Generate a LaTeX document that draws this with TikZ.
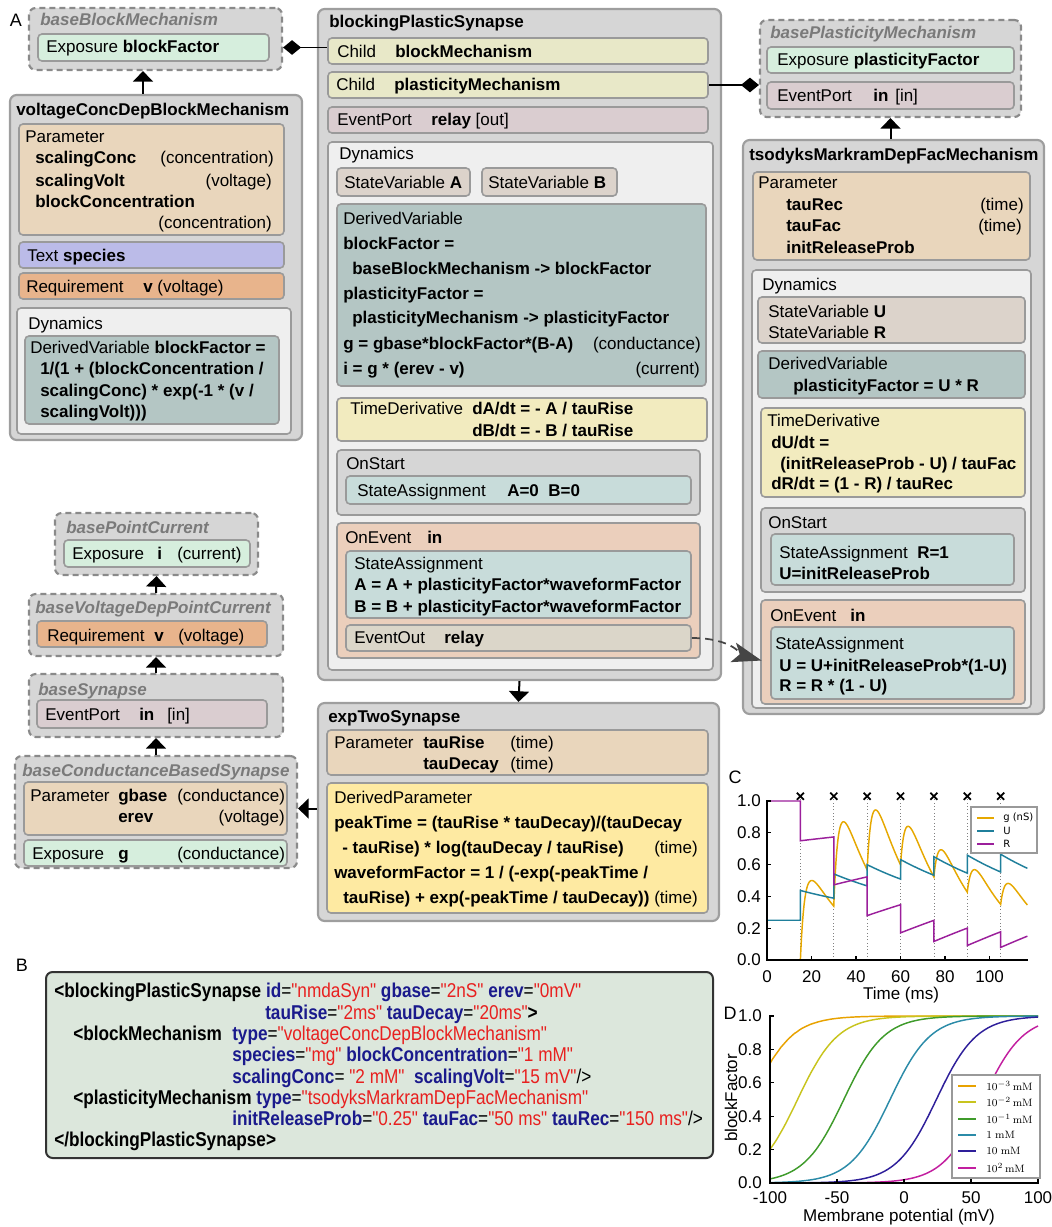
\documentclass[tikz,border=0pt]{standalone}
\usepackage[no-math]{fontspec}
\setmainfont{Liberation Sans}
\newfontfamily\xmlfont{Liberation Sans}[FakeStretch=0.86,Ligatures=TeXOff]
\newfontfamily\legfont{DejaVu Sans}
\usetikzlibrary{fit,arrows.meta,shapes.misc}

\definecolor{clsfill}{HTML}{D6D6D6}
\definecolor{clsline}{HTML}{9E9E9E}
\definecolor{basedraw}{HTML}{8A8A8A}
\definecolor{partline}{HTML}{9A9A9A}
\definecolor{titlegray}{HTML}{7A7A7A}
\definecolor{expo}{HTML}{D6EEDD}
\definecolor{param}{HTML}{E9D6BC}
\definecolor{textc}{HTML}{BBBBE8}
\definecolor{req}{HTML}{E8B48C}
\definecolor{dyn}{HTML}{EFEFEF}
\definecolor{derv}{HTML}{B4C6C4}
\definecolor{child}{HTML}{E8E8C8}
\definecolor{evport}{HTML}{DACDD0}
\definecolor{statev}{HTML}{DCD3CB}
\definecolor{tderiv}{HTML}{F2EBBF}
\definecolor{onstart}{HTML}{D6D6D6}
\definecolor{sassign}{HTML}{C8DCDA}
\definecolor{onevent}{HTML}{EBCFBC}
\definecolor{evout}{HTML}{DBD6C9}
\definecolor{dparam}{HTML}{FEEAA2}
\definecolor{xmlbg}{HTML}{DCE7DC}
\definecolor{xnavy}{HTML}{1A1A8C}
\definecolor{xred}{HTML}{E8201F}
\definecolor{evgray}{HTML}{454545}
\definecolor{gcol}{HTML}{E6A800}
\definecolor{ucol}{HTML}{1F7F9B}
\definecolor{rcol}{HTML}{9B1F9B}
\definecolor{dA}{HTML}{E8A200}
\definecolor{dB}{HTML}{C8C41E}
\definecolor{dC}{HTML}{3F9B2B}
\definecolor{dD}{HTML}{2B8BA8}
\definecolor{dE}{HTML}{2E1F9A}
\definecolor{dF}{HTML}{C21E9F}

\newcommand{\xattr}[1]{{\color{xnavy}\bfseries #1}}
\newcommand{\xval}[1]{{\color{xred}"#1"}}

\tikzset{
  cls/.style={draw=clsline, fill=clsfill, line width=1.6pt, rounded corners=5pt, inner sep=0pt},
  base/.style={cls, draw=basedraw, dash pattern=on 4.5pt off 3pt},
  part/.style={draw=partline, line width=1.2pt, rounded corners=3pt, inner sep=0pt},
  tx/.style={anchor=base west, inner sep=0pt},
  tr/.style={anchor=base east, inner sep=0pt},
  title/.style={tx, font=\bfseries\itshape, text=titlegray},
  head/.style={tx, font=\bfseries},
  inh/.style={line width=1.5pt, -{Triangle[length=8pt,width=15pt]}},
  comp/.style={line width=1.2pt, {Diamond[length=13.5pt,width=11pt]}-},
  evt/.style={draw=evgray, line width=1.3pt, dash pattern=on 6pt off 4pt,
    -{Stealth[length=22pt,width=15pt,inset=5pt]}, shorten >=6.75pt},
  lab/.style={inner sep=0pt, font=\fontsize{13.5}{16}\selectfont},
  xmlbox/.style={draw=black!80, fill=xmlbg, line width=1.5pt, rounded corners=5pt, inner sep=0pt},
  xl/.style={tx, font=\xmlfont\fontsize{15}{18}\selectfont},
  axis/.style={line width=1.5pt, line cap=rect},
  curve/.style={line width=1.1pt},
  spk/.style={gray, line width=0.5pt, dotted},
  spkm/.style={cross out, draw=black, line width=1.3pt, minimum size=4pt, inner sep=0pt},
  leg/.style={draw=gray!80, fill=white, line width=0.8pt, inner sep=0pt},
  tickl/.style={inner sep=0pt}
}

\begin{document}
\fontsize{12.75}{15}\selectfont
\begin{tikzpicture}[x=0.75pt,y=-0.75pt,
  declare function={ew(\s)=exp(-max(\s,0)/20)-exp(-min(max(\s,0),18)/2);
    gc(\t)=2*(0.3588*ew(\t-15)+0.4318*ew(\t-30)+0.3499*ew(\t-45)+0.2541*ew(\t-60)
      +0.1909*ew(\t-75)+0.1573*ew(\t-90)+0.1411*ew(\t-105));}]
\useasboundingbox (0,0) rectangle (1051,1227);

% ---------------- panel A, left column
\node[lab] (labA) at (16,20) {A};
\node[base, fit={(29,8) (282,70)}] (bbm) {};
\node[title] (bbm-t) at (40,26) {baseBlockMechanism};
\node[part, fill=expo, fit={(38,34) (269,61)}] (bbmx) {};
\node[tx] (bbmx-t) at (46,53) {Exposure \textbf{blockFactor}};

\node[cls, fit={(10,95) (302,440)}] (vcd) {};
\node[head] (vcd-t) at (16,116) {voltageConcDepBlockMechanism};
\node[part, fill=param, fit={(19,124) (284,235)}] (vcdp) {};
\node[tx] (vcdp-t) at (25,143) {Parameter};
\node[head] (vcdp-1) at (35,164) {scalingConc};
\node[tr] (vcdp-1u) at (274,164) {(concentration)};
\node[head] (vcdp-2) at (35,186) {scalingVolt};
\node[tr] (vcdp-2u) at (272,186) {(voltage)};
\node[head] (vcdp-3) at (35,207) {blockConcentration};
\node[tr] (vcdp-3u) at (272,228) {(concentration)};
\node[part, fill=textc, fit={(19,242) (284,268)}] (vcds) {};
\node[tx] (vcds-t) at (27,261) {Text \textbf{species}};
\node[part, fill=req, fit={(19,273) (284,299)}] (vcdr) {};
\node[tx] (vcdr-t) at (26,292) {Requirement};
\node[tx] (vcdr-v) at (143,292) {\textbf{v} (voltage)};
\node[part, fill=dyn, fit={(17,308) (291,434)}] (vcdd) {};
\node[tx] (vcdd-t) at (28,329) {Dynamics};
\node[part, fill=derv, fit={(25,336) (279,424)}] (vcdv) {};
\node[tx] (vcdv-1) at (30,353) {DerivedVariable \textbf{blockFactor =}};
\node[head] (vcdv-2) at (40,374) {1/(1 + (blockConcentration /};
\node[head] (vcdv-3) at (40,396) {scalingConc) * exp(-1 * (v /};
\node[head] (vcdv-4) at (40,417) {scalingVolt)))};

\draw[inh] ([xshift=-9.75pt]vcd.north) -- ([xshift=-9.75pt]vcd.north |- bbm.south);

% lower left stack
\node[base, fit={(55,513) (258,575)}] (bpc) {};
\node[title] (bpc-t) at (66,533) {basePointCurrent};
\node[part, fill=expo, fit={(64,540) (250,567)}] (bpcx) {};
\node[tx] (bpcx-t) at (72,559) {Exposure};
\node[head] (bpcx-i) at (157,559) {i};
\node[tx] (bpcx-u) at (177,559) {(current)};

\node[base, fit={(29,594) (283,656)}] (bvd) {};
\node[title] (bvd-t) at (35,613) {baseVoltageDepPointCurrent};
\node[part, fill=req, fit={(37,621) (267,647)}] (bvdr) {};
\node[tx] (bvdr-t) at (47,641) {Requirement};
\node[head] (bvdr-v) at (154,641) {v};
\node[tx] (bvdr-u) at (178,641) {(voltage)};

\node[base, fit={(29,674) (283,737)}] (bsyn) {};
\node[title] (bsyn-t) at (38,695) {baseSynapse};
\node[part, fill=evport, fit={(37,700) (267,728)}] (bsyne) {};
\node[tx] (bsyne-t) at (45,720) {EventPort};
\node[head] (bsyne-i) at (139,720) {in};
\node[tx] (bsyne-u) at (167,720) {[in]};

\node[base, fit={(15,756) (297,868)}] (bcs) {};
\node[title] (bcs-t) at (22,776) {baseConductanceBasedSynapse};
\node[part, fill=param, fit={(24,782) (287,835)}] (bcsp) {};
\node[tx] (bcsp-t) at (30,801) {Parameter};
\node[head] (bcsp-1) at (118,801) {gbase};
\node[tx] (bcsp-1u) at (177,801) {(conductance)};
\node[head] (bcsp-2) at (118,822) {erev};
\node[tr] (bcsp-2u) at (285,822) {(voltage)};
\node[part, fill=expo, fit={(24,840) (287,866)}] (bcsx) {};
\node[tx] (bcsx-t) at (32,859) {Exposure};
\node[head] (bcsx-g) at (118,859) {g};
\node[tx] (bcsx-u) at (177,859) {(conductance)};

\draw[inh] (bvd.north) -- (bpc.south);
\draw[inh] (bsyn.north) -- (bvd.south);
\draw[inh] (bcs.north) -- (bsyn.south);

% ---------------- middle column
\node[cls, fit={(318,9) (721,680)}] (bps) {};
\node[head] (bps-t) at (329,28) {blockingPlasticSynapse};
\node[part, fill=child, fit={(328,38) (708,64)}] (child1) {};
\node[tx] (child1-t) at (337,58) {Child};
\node[head] (child1-n) at (395,58) {blockMechanism};
\node[part, fill=child, fit={(328,72) (708,98)}] (child2) {};
\node[tx] (child2-t) at (336,91) {Child};
\node[head] (child2-n) at (394,91) {plasticityMechanism};
\node[part, fill=evport, fit={(328,107) (708,133)}] (bpse) {};
\node[tx] (bpse-t) at (337,126) {EventPort};
\node[tx] (bpse-n) at (431,126) {\textbf{relay} [out]};
\node[part, fill=dyn, fit={(328,142) (713,670)}] (bpsd) {};
\node[tx] (bpsd-t) at (339,160) {Dynamics};
\node[part, fill=statev, fit={(337,168) (470,196)}] (sva) {};
\node[tx] (sva-t) at (344,188) {StateVariable \textbf{A}};
\node[part, fill=statev, fit={(482,168) (617,196)}] (svb) {};
\node[tx] (svb-t) at (488,188) {StateVariable \textbf{B}};
\node[part, fill=derv, fit={(337,204) (706,386)}] (bpsv) {};
\node[tx] (bpsv-t) at (343,224) {DerivedVariable};
\node[head] (bpsv-1) at (343,249) {blockFactor =};
\node[head] (bpsv-2) at (352,274) {baseBlockMechanism -> blockFactor};
\node[head] (bpsv-3) at (343,299) {plasticityFactor =};
\node[head] (bpsv-4) at (352,323) {plasticityMechanism -> plasticityFactor};
\node[head] (bpsv-5) at (343,349) {g = gbase*blockFactor*(B-A)};
\node[tr] (bpsv-5u) at (701,349) {(conductance)};
\node[head] (bpsv-6) at (343,374) {i = g * (erev - v)};
\node[tr] (bpsv-6u) at (700,374) {(current)};
\node[part, fill=tderiv, fit={(337,398) (707,441)}] (bpstd) {};
\node[tx] (bpstd-t) at (350,414) {TimeDerivative};
\node[head] (bpstd-1) at (472,414) {dA/dt = - A / tauRise};
\node[head] (bpstd-2) at (472,436) {dB/dt = - B / tauRise};
\node[part, fill=onstart, fit={(337,450) (700,515)}] (bpsos) {};
\node[tx] (bpsos-t) at (346,469) {OnStart};
\node[part, fill=sassign, fit={(346,476) (691,504)}] (bpssa) {};
\node[tx] (bpssa-t) at (357,496) {StateAssignment};
\node[head] (bpssa-v) at (507,496) {A=0\ \ B=0};
\node[part, fill=onevent, fit={(337,523) (700,658)}] (bpsoe) {};
\node[tx] (bpsoe-t) at (345,543) {OnEvent};
\node[head] (bpsoe-n) at (427,543) {in};
\node[part, fill=sassign, fit={(346,551) (691,618)}] (bpsea) {};
\node[tx] (bpsea-t) at (354,569) {StateAssignment};
\node[head] (bpsea-1) at (354,590) {A = A + plasticityFactor*waveformFactor};
\node[head] (bpsea-2) at (354,612) {B = B + plasticityFactor*waveformFactor};
\node[part, fill=evout, fit={(346,625) (691,651)}] (eo) {};
\node[tx] (eo-t) at (354,643) {EventOut};
\node[head] (eo-n) at (444,643) {relay};

\node[cls, fit={(318,703) (719,921)}] (ets) {};
\node[head] (ets-t) at (328,722) {expTwoSynapse};
\node[part, fill=param, fit={(327,730) (708,775)}] (etsp) {};
\node[tx] (etsp-t) at (334,748) {Parameter};
\node[head] (etsp-1) at (423,748) {tauRise};
\node[tx] (etsp-1u) at (510,748) {(time)};
\node[head] (etsp-2) at (423,769) {tauDecay};
\node[tx] (etsp-2u) at (510,769) {(time)};
\node[part, fill=dparam, fit={(327,783) (708,913)}] (etsd) {};
\node[tx] (etsd-t) at (334,803) {DerivedParameter};
\node[head] (etsd-1) at (334,828) {peakTime = (tauRise * tauDecay)/(tauDecay};
\node[head] (etsd-2) at (342,853) {- tauRise) * log(tauDecay / tauRise)};
\node[tr] (etsd-2u) at (698,853) {(time)};
\node[head] (etsd-3) at (334,878) {waveformFactor = 1 / (-exp(-peakTime /};
\node[tx] (etsd-4) at (343,903) {\textbf{tauRise) + exp(-peakTime / tauDecay))} (time)};

\draw[inh] (bps.south) -- (ets.north);
\draw[inh] (ets.west |- bcsp.center) -- (bcs.east |- bcsp.center);

% ---------------- right column
\node[base, fit={(760,20) (1021,117)}] (bpm) {};
\node[title] (bpm-t) at (770,39) {basePlasticityMechanism};
\node[part, fill=expo, fit={(767,47) (1014,73)}] (bpmx) {};
\node[tx] (bpmx-t) at (777,66) {Exposure \textbf{plasticityFactor}};
\node[part, fill=evport, fit={(767,82) (1014,109)}] (bpme) {};
\node[tx] (bpme-t) at (777,102) {EventPort};
\node[head] (bpme-n) at (873,102) {in};
\node[tx] (bpme-u) at (895,102) {[in]};

\node[cls, fit={(743,140) (1044,714)}] (tmd) {};
\node[head] (tmd-t) at (749,161) {tsodyksMarkramDepFacMechanism};
\node[part, fill=param, fit={(753,172) (1030,260)}] (tmdp) {};
\node[tx] (tmdp-t) at (758,189) {Parameter};
\node[head] (tmdp-1) at (786,210) {tauRec};
\node[tr] (tmdp-1u) at (1024,210) {(time)};
\node[head] (tmdp-2) at (786,231) {tauFac};
\node[tr] (tmdp-2u) at (1022,231) {(time)};
\node[head] (tmdp-3) at (786,253) {initReleaseProb};
\node[part, fill=dyn, fit={(752,270) (1031,708)}] (tmdd) {};
\node[tx] (tmdd-t) at (762,290) {Dynamics};
\node[part, fill=statev, fit={(758,297) (1025,343)}] (tmdsv) {};
\node[tx] (tmdsv-1) at (768,317) {StateVariable \textbf{U}};
\node[tx] (tmdsv-2) at (768,338) {StateVariable \textbf{R}};
\node[part, fill=derv, fit={(758,351) (1025,398)}] (tmdv) {};
\node[tx] (tmdv-t) at (768,369) {DerivedVariable};
\node[head] (tmdv-1) at (793,391) {plasticityFactor = U * R};
\node[part, fill=tderiv, fit={(761,408) (1025,497)}] (tmdtd) {};
\node[tx] (tmdtd-t) at (767,426) {TimeDerivative};
\node[head] (tmdtd-1) at (771,448) {dU/dt =};
\node[head] (tmdtd-2) at (780,469) {(initReleaseProb - U) / tauFac};
\node[head] (tmdtd-3) at (771,489) {dR/dt = (1 - R) / tauRec};
\node[part, fill=onstart, fit={(761,508) (1025,592)}] (tmdos) {};
\node[tx] (tmdos-t) at (768,528) {OnStart};
\node[part, fill=sassign, fit={(771,534) (1014,585)}] (tmdsa) {};
\node[tx] (tmdsa-t) at (779,558) {StateAssignment};
\node[head] (tmdsa-1) at (917,558) {R=1};
\node[head] (tmdsa-2) at (779,579) {U=initReleaseProb};
\node[part, fill=onevent, fit={(761,600) (1025,704)}] (tmdoe) {};
\node[tx] (tmdoe-t) at (770,621) {OnEvent};
\node[head] (tmdoe-n) at (850,621) {in};
\node[part, fill=sassign, fit={(771,627) (1014,699)}] (tsa) {};
\node[tx] (tsa-t) at (775,649) {StateAssignment};
\node[head] (tsa-1) at (779,671) {U = U+initReleaseProb*(1-U)};
\node[head] (tsa-2) at (779,691) {R = R * (1 - U)};

\draw[inh] (tmd.north -| bpm.south) -- (bpm.south);
\draw[comp] (bbm.east |- bbmx.center) -- (child1.west |- bbmx.center);
\draw[comp] (bpm.west |- child2.east) -- (child2.east);
\draw[evt] (eo.east) .. controls +(40,0) and +(-28,-8) .. (tsa.west);

% ---------------- panel B
\node[lab] (labB) at (22,965) {B};
\node[xmlbox, fit={(46,972) (713,1158)}] (xml) {};
\node[xl] (xml-1) at (54,997) {\textbf{<blockingPlasticSynapse} \xattr{id}=\xval{nmdaSyn} \xattr{gbase}=\xval{2nS} \xattr{erev}=\xval{0mV}};
\node[xl] (xml-2) at (265,1019) {\xattr{tauRise}=\xval{2ms} \xattr{tauDecay}=\xval{20ms}\textbf{>}};
\node[xl] (xml-3) at (73,1040) {\textbf{<blockMechanism}};
\node[xl] (xml-3a) at (232,1040) {\xattr{type}=\xval{voltageConcDepBlockMechanism}};
\node[xl] (xml-4) at (232,1061) {\xattr{species}=\xval{mg} \xattr{blockConcentration}=\xval{1 mM}};
\node[xl] (xml-5) at (232,1083) {\xattr{scalingConc}= \xval{2 mM}\ \ \xattr{scalingVolt}=\xval{15 mV}/>};
\node[xl] (xml-6) at (73,1104) {\textbf{<plasticityMechanism} \xattr{type}=\xval{tsodyksMarkramDepFacMechanism}};
\node[xl] (xml-7) at (232,1125) {\xattr{initReleaseProb}=\xval{0.25} \xattr{tauFac}=\xval{50 ms} \xattr{tauRec}=\xval{150 ms}/>};
\node[xl] (xml-8) at (54,1146) {\textbf{</blockingPlasticSynapse>}};

% ---------------- panel C
\node[lab] (labC) at (735,777) {C};
\begin{scope}[shift={(767,960)}, x=1.669pt, y=119.25pt]
  \foreach \t in {15,30,...,105} {
    \draw[spk] (\t,0) -- (\t,1.03);
    \node[spkm] (sp\t) at (\t,1.03) {};
  }
  \draw[gcol, curve] plot[domain=0:117, samples=469] (\x,{gc(\x)});
  \draw[ucol, curve] (0,0.25) -- (15,0.25)
    \foreach \a/\b/\c in {15/30/0.1875, 30/45/0.2917, 45/60/0.3496, 60/75/0.3818,
      75/90/0.3996, 90/105/0.4095, 105/117/0.4151}
    { -- plot[domain=\a:\b, samples=12] (\x,{0.25+\c*exp(-(\x-\a)/50)}) };
  \draw[rcol, curve] (0,1) -- (15,1)
    \foreach \a/\b/\c in {15/30/0.25, 30/45/0.5271, 45/60/0.7207, 60/75/0.8292,
      75/90/0.8833, 90/105/0.9088, 105/117/0.9206}
    { -- plot[domain=\a:\b, samples=12] (\x,{1-\c*exp(-(\x-\a)/150)}) };
  \draw[axis] (0,1) -- (0,0) -- (117,0);
  \foreach \v in {0,20,...,100} {
    \draw[line width=1pt] (\v,0) -- ++(0,3pt);
    \node[tickl, anchor=north, yshift=-8pt] (cx\v) at (\v,0) {\v};
  }
  \foreach \v/\l [count=\i] in {0/0.0,0.2/0.2,0.4/0.4,0.6/0.6,0.8/0.8,1/1.0} {
    \draw[line width=1pt] (0,\v) -- ++(3pt,0);
    \node[tickl, anchor=east, xshift=-4.5pt] (cy\i) at (0,\v) {\l};
  }
\end{scope}
\node[tickl] (cxl) at (901,995) {Time (ms)};
\node[leg, fit={(971,807) (1037,853)}] (legc) {};
\foreach \y/\n/\c in {818/g (nS)/gcol, 831/U/ucol, 844/R/rcol} {
  \draw[\c, curve] (977,\y) -- (994,\y);
  \node[tx, anchor=west, font=\legfont\fontsize{7.5}{9}\selectfont] (legc-\c) at (1003,\y) {\n};
}

% ---------------- panel D
\node[lab] (labD) at (730,1013) {D};
\begin{scope}[shift={(904,1183)}, x=1.005pt, y=125.25pt]
  \foreach \k/\c in {0.0005/dA, 0.005/dB, 0.05/dC, 0.5/dD, 5/dE, 50/dF}
    \draw[\c, curve] plot[domain=-100:100, samples=101] (\x,{exp(\x/15)/(exp(\x/15)+\k)});
  \draw[axis] (-100,1) -- (-100,0) -- (100,0);
  \foreach \v in {-100,-50,0,50,100} {
    \draw[line width=1pt] (\v,0) -- ++(0,3pt);
    \node[tickl, anchor=north, yshift=-6pt] (dx\v) at (\v,0) {\v};
  }
  \foreach \v/\l [count=\i] in {0/0.0,0.2/0.2,0.4/0.4,0.6/0.6,0.8/0.8,1/1.0} {
    \draw[line width=1pt] (-100,\v) -- ++(3pt,0);
    \node[tickl, anchor=east, xshift=-6pt] (dy\i) at (-100,\v) {\l};
  }
\end{scope}
\node[tickl] (dxl) at (899,1217) {Membrane potential (mV)};
\node[tickl, rotate=90] (dyl) at (731,1098) {blockFactor};
\node[leg, fit={(952,1075) (1040,1178)}] (legd) {};
\foreach \y/\n/\c in {1086/{$10^{-3}\,\mathrm{mM}$}/dA, 1102/{$10^{-2}\,\mathrm{mM}$}/dB,
    1119/{$10^{-1}\,\mathrm{mM}$}/dC, 1135/{$1\ \mathrm{mM}$}/dD,
    1151/{$10\ \mathrm{mM}$}/dE, 1168/{$10^{2}\,\mathrm{mM}$}/dF} {
  \draw[\c, curve] (958,\y) -- (976,\y);
  \node[anchor=west, inner sep=0pt, font=\fontsize{8.5}{10}\selectfont] (legd-\c) at (986,\y) {\n};
}
\end{tikzpicture}
\end{document}
